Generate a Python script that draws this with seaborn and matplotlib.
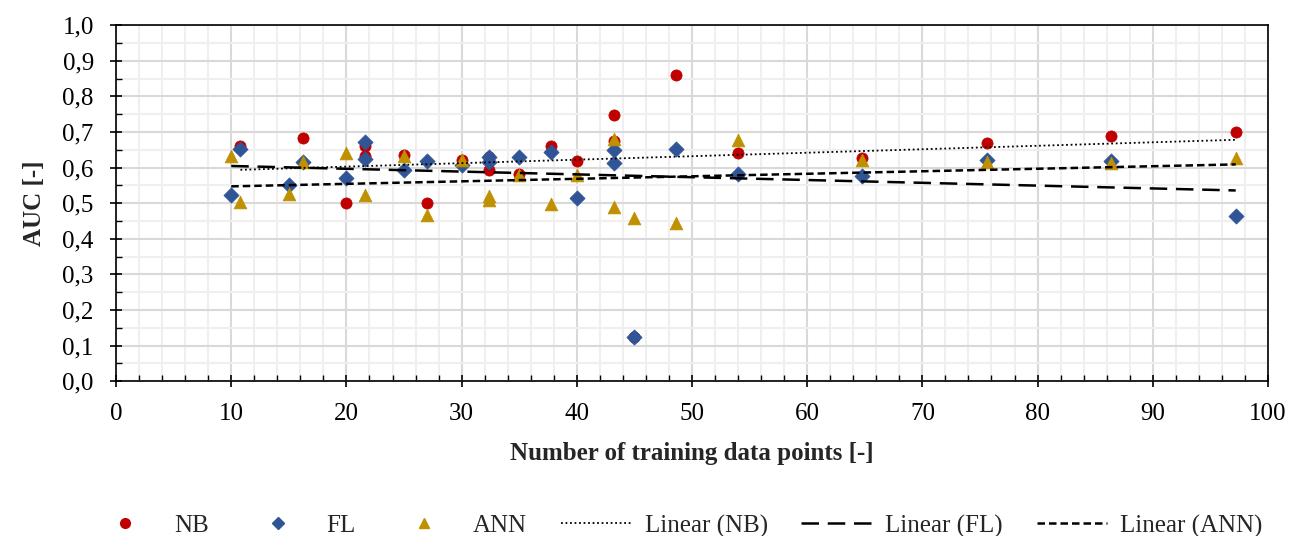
import numpy as np
import pandas as pd
import matplotlib
matplotlib.use("Agg")
import matplotlib.pyplot as plt
from matplotlib.ticker import MultipleLocator, FuncFormatter
from matplotlib.lines import Line2D
import seaborn as sns

# NB (naive Bayes)
nb_x = [10.8, 16.2, 20, 21.6, 21.6, 25, 27, 30, 32.4, 32.4, 35, 37.8, 40,
        43.2, 43.2, 45, 48.6, 54, 64.8, 75.6, 86.4, 97.2]
nb_auc = [0.66, 0.683, 0.50, 0.66, 0.632, 0.635, 0.50, 0.622, 0.63, 0.594, 0.583, 0.66, 0.619,
          0.749, 0.675, 0.125, 0.86, 0.64, 0.627, 0.669, 0.69, 0.701]

# FL (fuzzy logic)
fl_x = [10, 10.8, 15, 16.2, 20, 21.6, 21.6, 25, 27, 30, 32.4, 32.4, 35, 37.8, 40,
        43.2, 43.2, 45, 48.6, 54, 64.8, 75.6, 86.4, 97.2]
fl_auc = [0.522, 0.652, 0.552, 0.615, 0.572, 0.671, 0.623, 0.593, 0.619, 0.607, 0.63, 0.616,
          0.63, 0.644, 0.515, 0.649, 0.613, 0.125, 0.652, 0.583, 0.576, 0.62, 0.618, 0.463]

# ANN
ann_x = [10, 10.8, 15, 16.2, 20, 21.6, 25, 27, 30, 32.4, 32.4, 35, 37.8, 40,
         43.2, 43.2, 45, 48.6, 54, 64.8, 75.6, 86.4, 97.2]
ann_auc = [0.632, 0.504, 0.525, 0.616, 0.641, 0.522, 0.632, 0.468, 0.62, 0.52, 0.508, 0.58,
           0.497, 0.579, 0.68, 0.49, 0.457, 0.443, 0.677, 0.62, 0.615, 0.612, 0.628]

series = [
    ("NB", nb_x, nb_auc, "#C00000", "o", 65, (0, (1, 1.5)), 1.3),
    ("FL", fl_x, fl_auc, "#2F5597", "D", 60, (0, (7, 3.5)), 1.8),
    ("ANN", ann_x, ann_auc, "#BF9000", "^", 85, (0, (3, 1.6)), 1.8),
]

sns.set_theme(style="white")
plt.rcParams["font.family"] = ["Liberation Serif", "DejaVu Serif"]

fig = plt.figure(figsize=(13.01, 5.36), dpi=100)
ax = fig.add_axes([0.0892, 0.289, 0.8854, 0.664])

marker_handles = []
line_handles = []
for name, xs, ys, color, marker, size, ls, lw in series:
    df = pd.DataFrame({"x": xs, "auc": ys})
    sns.scatterplot(data=df, x="x", y="auc", ax=ax, color=color, marker=marker,
                    s=size, edgecolor=color, linewidth=0.5, zorder=3)
    marker_handles.append(Line2D([], [], linestyle="none", marker=marker, color=color,
                                 markersize=7 if marker != "D" else 6, label=name))

for name, xs, ys, color, marker, size, ls, lw in series:
    df = pd.DataFrame({"x": xs, "auc": ys})
    sns.regplot(data=df, x="x", y="auc", ax=ax, scatter=False, ci=None, truncate=True,
                line_kws=dict(color="black", linestyle=ls, linewidth=lw, zorder=4))
    line_handles.append(Line2D([], [], color="black", linestyle=ls, linewidth=lw,
                               label="Linear (%s)" % name))

ax.set_xlim(0, 100)
ax.set_ylim(0, 1.0)
ax.xaxis.set_major_locator(MultipleLocator(10))
ax.xaxis.set_minor_locator(MultipleLocator(2))
ax.yaxis.set_major_locator(MultipleLocator(0.1))
ax.yaxis.set_minor_locator(MultipleLocator(0.05))
ax.yaxis.set_major_formatter(FuncFormatter(lambda v, p: ("%.1f" % v).replace(".", ",")))

ax.grid(which="major", color="#d9d9d9", linewidth=1.5, zorder=0)
ax.grid(which="minor", color="#efefef", linewidth=1.5, zorder=0)
ax.set_axisbelow(True)

for sp in ax.spines.values():
    sp.set_color("black")
    sp.set_linewidth(1.2)

ax.tick_params(axis="both", which="major", labelsize=18, colors="black",
               direction="inout", length=8, width=1.2)
ax.tick_params(axis="x", which="major", pad=12)
ax.tick_params(axis="y", which="major", pad=12)
ax.tick_params(axis="both", which="minor", direction="in", length=4, width=1.0,
               colors="black")
ax.tick_params(axis="x", which="both", bottom=True, top=False)
ax.tick_params(axis="y", which="both", left=True, right=False)

ax.set_xlabel("Number of training data points [-]", fontsize=18, fontweight="bold",
              labelpad=12)
ax.set_ylabel("AUC [-]", fontsize=18, fontweight="bold", labelpad=12)

fig.legend(handles=marker_handles + line_handles, loc="lower center", ncol=6,
           frameon=False, fontsize=18, bbox_to_anchor=(0.52, -0.045),
           handlelength=2.8, columnspacing=1.35, handletextpad=0.55)

fig.savefig("out.png", dpi=100)
